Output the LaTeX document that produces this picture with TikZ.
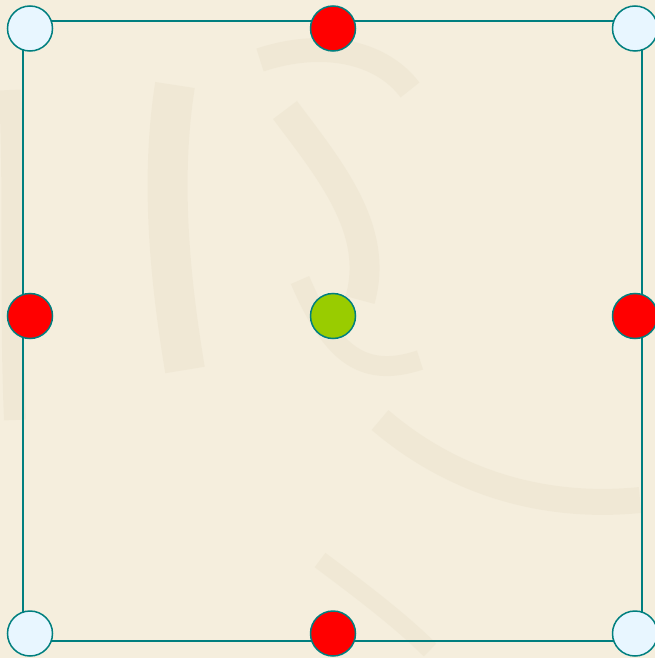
\documentclass[tikz,border=0pt]{standalone}
\usetikzlibrary{calc}
\definecolor{bg}{HTML}{F5EEDD}
\definecolor{brush}{HTML}{EBE2CD}
\definecolor{teal}{HTML}{007F7F}
\definecolor{pale}{HTML}{E8F6FF}
\definecolor{redc}{HTML}{FF0000}
\definecolor{greenc}{HTML}{99CC00}
\tikzset{
  dot/.style={circle, draw=teal, line width=1.5pt, minimum size=45pt, inner sep=0pt},
  cornerdot/.style={dot, fill=pale},
  edgedot/.style={dot, fill=redc},
  centerdot/.style={dot, fill=greenc},
  frame/.style={draw=teal, line width=2pt}
}
\begin{document}
\begin{tikzpicture}[x=1pt,y=-1pt]
\fill[bg] (0,0) rectangle (655,658);
\useasboundingbox (0,0) rectangle (655,658);
% faint brush watermark
\begin{scope}[brush, line cap=butt, line join=round, opacity=0.45]
\draw[line width=40pt] (175,85) .. controls (160,180) and (170,280) .. (185,370);
\draw[line width=30pt] (285,110) .. controls (330,170) and (380,230) .. (360,300);
\draw[line width=24pt] (260,60) .. controls (320,40) and (380,50) .. (410,90);
\draw[line width=20pt] (300,280) .. controls (330,350) and (360,380) .. (420,360);
\draw[line width=26pt] (380,420) .. controls (450,480) and (540,510) .. (640,500);
\draw[line width=18pt] (320,560) .. controls (360,590) and (400,620) .. (430,650);
\draw[line width=22pt] (10,90) .. controls (15,200) and (10,300) .. (15,420);
\end{scope}
\coordinate (tl) at (22.5,21.5);
\coordinate (tr) at (642,21.5);
\coordinate (br) at (642,641);
\coordinate (bl) at (22.5,641);
\draw[frame] (tl) -- (tr) -- (br) -- (bl) -- cycle;
\node[cornerdot] (c1) at (30,28.5) {};
\node[edgedot] (m1) at (333,28.5) {};
\node[cornerdot] (c2) at (635,28.5) {};
\node[edgedot] (m2) at (30,316) {};
\node[centerdot] (ce) at (333,316) {};
\node[edgedot] (m3) at (635,316) {};
\node[cornerdot] (c3) at (30,633.5) {};
\node[edgedot] (m4) at (333,633.5) {};
\node[cornerdot] (c4) at (635,633.5) {};
\end{tikzpicture}
\end{document}
